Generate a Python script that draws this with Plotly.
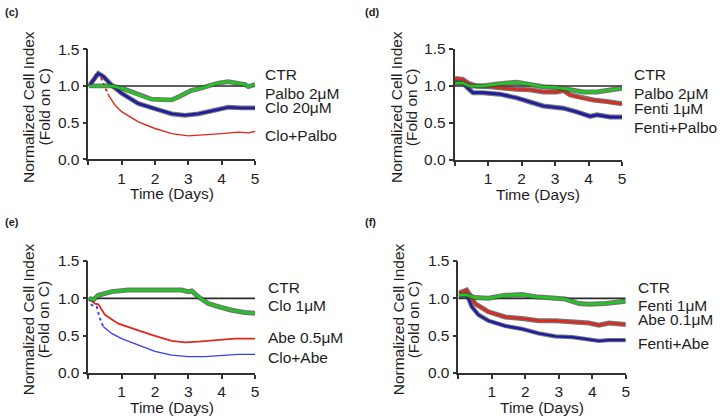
import plotly.graph_objects as go

# ---------------- data ----------------
ctr_t = [0.0, 5.0]
ctr_y = [1.0, 1.0]

# panel (c)
c_palbo_t = [0.02, 0.3, 0.7, 1.0, 1.5, 1.9, 2.2, 2.5, 2.7, 2.9, 3.1, 3.3, 3.5, 3.7, 3.9, 4.2, 4.5, 4.7, 4.8, 4.9, 5.0]
c_palbo_y = [1.0, 1.0, 1.0, 0.97, 0.88, 0.82, 0.815, 0.81, 0.85, 0.89, 0.94, 0.96, 0.99, 1.01, 1.04, 1.06, 1.04, 1.02, 0.99, 1.01, 1.02]
c_clo_t = [0.02, 0.15, 0.3, 0.45, 0.7, 1.0, 1.5, 2.0, 2.5, 2.9, 3.3, 3.7, 4.2, 4.6, 5.0]
c_clo_y = [1.0, 1.08, 1.17, 1.13, 1.01, 0.90, 0.76, 0.69, 0.62, 0.60, 0.62, 0.66, 0.71, 0.70, 0.70]
c_combo_t = [0.02, 0.15, 0.25, 0.35, 0.45, 0.6, 0.8, 1.0, 1.5, 2.0, 2.5, 3.0, 3.5, 4.0, 4.5, 4.8, 5.0]
c_combo_y = [0.99, 1.06, 1.19, 1.15, 1.04, 0.88, 0.74, 0.65, 0.51, 0.42, 0.35, 0.32, 0.33, 0.35, 0.37, 0.36, 0.38]

# panel (d)
d_palbo_t = [0.02, 0.25, 0.45, 0.85, 1.35, 1.85, 2.25, 2.65, 3.05, 3.45, 3.85, 4.25, 4.65, 5.0]
d_palbo_y = [1.04, 1.04, 1.0, 1.0, 1.03, 1.05, 1.02, 0.99, 0.98, 0.95, 0.92, 0.92, 0.95, 0.97]
d_fenti_t = [0.02, 0.25, 0.4, 0.65, 1.05, 1.45, 1.85, 2.25, 2.65, 3.05, 3.25, 3.45, 3.85, 4.15, 4.55, 5.0]
d_fenti_y = [1.10, 1.09, 1.04, 1.0, 0.99, 0.97, 0.955, 0.95, 0.92, 0.92, 0.94, 0.88, 0.83, 0.81, 0.79, 0.76]
d_combo_t = [0.02, 0.25, 0.4, 0.55, 0.85, 1.35, 1.85, 2.25, 2.65, 3.05, 3.25, 3.65, 4.05, 4.25, 4.65, 5.0]
d_combo_y = [1.05, 1.04, 0.97, 0.91, 0.91, 0.89, 0.84, 0.79, 0.73, 0.71, 0.70, 0.65, 0.59, 0.61, 0.58, 0.58]

# panel (e)
e_clo_t = [0.02, 0.15, 0.3, 0.7, 1.2, 1.9, 2.4, 2.8, 3.0, 3.1, 3.3, 3.6, 3.9, 4.3, 4.7, 5.0]
e_clo_y = [1.0, 0.98, 1.04, 1.09, 1.11, 1.11, 1.10, 1.11, 1.09, 1.10, 1.02, 0.93, 0.89, 0.84, 0.81, 0.80]
e_abe_t = [0.02, 0.2, 0.3, 0.5, 0.9, 1.4, 1.9, 2.5, 2.9, 3.3, 3.9, 4.4, 5.0]
e_abe_y = [1.0, 0.93, 0.92, 0.78, 0.66, 0.58, 0.51, 0.43, 0.41, 0.42, 0.44, 0.46, 0.46]
e_combo_t = [0.02, 0.1, 0.25, 0.35, 0.45, 0.7, 1.0, 1.5, 2.0, 2.5, 3.0, 3.5, 4.0, 4.5, 5.0]
e_combo_y = [1.0, 0.91, 0.89, 0.73, 0.62, 0.53, 0.46, 0.37, 0.29, 0.24, 0.22, 0.22, 0.24, 0.25, 0.25]

# panel (f)
f_fenti_t = [0.02, 0.2, 0.5, 0.9, 1.4, 1.9, 2.3, 2.8, 3.2, 3.6, 3.9, 4.4, 5.0]
f_fenti_y = [1.04, 1.05, 1.01, 1.0, 1.04, 1.05, 1.02, 1.0, 0.99, 0.93, 0.92, 0.93, 0.96]
f_abe_t = [0.02, 0.15, 0.25, 0.35, 0.5, 0.9, 1.4, 1.9, 2.4, 2.9, 3.4, 3.9, 4.2, 4.5, 5.0]
f_abe_y = [1.07, 1.09, 1.11, 1.04, 0.93, 0.82, 0.75, 0.73, 0.70, 0.70, 0.69, 0.67, 0.64, 0.67, 0.65]
f_combo_t = [0.02, 0.2, 0.3, 0.4, 0.6, 0.9, 1.4, 1.9, 2.4, 2.9, 3.4, 3.9, 4.2, 4.5, 5.0]
f_combo_y = [1.02, 1.05, 1.0, 0.89, 0.78, 0.70, 0.63, 0.59, 0.53, 0.49, 0.48, 0.45, 0.43, 0.44, 0.44]

panel_letters = ["(c)", "(d)", "(e)", "(f)"]
labels_c = ["CTR", "Palbo 2\u03bcM", "Clo 20\u03bcM", "Clo+Palbo"]
labels_d = ["CTR", "Palbo 2\u03bcM", "Fenti 1\u03bcM", "Fenti+Palbo"]
labels_e = ["CTR", "Clo 1\u03bcM", "Abe 0.5\u03bcM", "Clo+Abe"]
labels_f = ["CTR", "Fenti 1\u03bcM", "Abe 0.1\u03bcM", "Fenti+Abe"]

# ---------------- styling ----------------
W, H = 720, 420
FONT = "Liberation Sans, Arial, sans-serif"
FS = 15.5
INK = "#1e1e1e"
GREEN = "#1ec81e"
BLUE = "#1c1ca6"
LBLUE = "#3c3cf0"
RED = "#e0281e"
BAND = "rgba(70,70,70,0.75)"


def px(x):
    return x / W


def py(y):
    return 1 - y / H


fig = go.Figure()


def add_line(ax, t, y, color, width, band=0.0, dot_until=None):
    xa, ya = ("x", "y") if ax == 1 else (f"x{ax}", f"y{ax}")
    if band:
        fig.add_trace(go.Scatter(x=t, y=y, mode="lines", xaxis=xa, yaxis=ya,
                                 line=dict(color=BAND, width=width + band),
                                 hoverinfo="skip", showlegend=False))
    if dot_until:
        k = dot_until
        fig.add_trace(go.Scatter(x=t[:k + 1], y=y[:k + 1], mode="lines", xaxis=xa, yaxis=ya,
                                 line=dict(color=color, width=width + 0.6, dash="dot"),
                                 showlegend=False))
        t, y = t[k:], y[k:]
    fig.add_trace(go.Scatter(x=t, y=y, mode="lines", xaxis=xa, yaxis=ya,
                             line=dict(color=color, width=width), showlegend=False))


# panel (c)
add_line(1, ctr_t, ctr_y, "#2a2a2a", 1.6)
add_line(1, c_combo_t, c_combo_y, RED, 1.4, dot_until=5)
add_line(1, c_clo_t, c_clo_y, BLUE, 2.6, band=2.2)
add_line(1, c_palbo_t, c_palbo_y, GREEN, 2.6, band=2.2)
# panel (d)
add_line(2, ctr_t, ctr_y, "#2a2a2a", 1.6)
add_line(2, d_combo_t, d_combo_y, BLUE, 2.6, band=2.4)
add_line(2, d_fenti_t, d_fenti_y, RED, 2.6, band=2.4)
add_line(2, d_palbo_t, d_palbo_y, GREEN, 2.6, band=2.4)
# panel (e)
add_line(3, ctr_t, ctr_y, "#2a2a2a", 1.6)
add_line(3, e_combo_t, e_combo_y, LBLUE, 1.3, dot_until=4)
add_line(3, e_abe_t, e_abe_y, RED, 1.8)
add_line(3, e_clo_t, e_clo_y, GREEN, 2.6, band=2.4)
# panel (f)
add_line(4, ctr_t, ctr_y, "#2a2a2a", 1.6)
add_line(4, f_combo_t, f_combo_y, BLUE, 2.4, band=2.0)
add_line(4, f_abe_t, f_abe_y, RED, 2.6, band=2.4)
add_line(4, f_fenti_t, f_fenti_y, GREEN, 2.6, band=2.4)

# plot areas in pixels: (x0, x1, ytop, ybottom)
boxes = [(88.3, 255.0, 49.3, 159.3),
         (454.5, 622.0, 49.0, 160.0),
         (88.3, 255.0, 261.0, 373.0),
         (458.3, 625.7, 261.0, 373.0)]

axis_style = dict(showline=True, linecolor="#333333", linewidth=1.5,
                  ticks="outside", ticklen=4, tickwidth=1.5, tickcolor="#333333",
                  showgrid=False, zeroline=False, automargin=False,
                  tickfont=dict(family=FONT, size=FS, color=INK))

layout = dict(template="none", width=W, height=H, margin=dict(l=0, r=0, t=0, b=0, pad=0),
              plot_bgcolor="white", paper_bgcolor="white", showlegend=False)

for i, (x0, x1, yt, yb) in enumerate(boxes):
    n = "" if i == 0 else str(i + 1)
    layout["xaxis" + n] = dict(axis_style, domain=[px(x0), px(x1)], range=[0, 5],
                               tickvals=[0, 1, 2, 3, 4, 5], ticktext=["", "1", "2", "3", "4", "5"],
                               anchor="y" + n)
    layout["yaxis" + n] = dict(axis_style, domain=[py(yb), py(yt)], range=[0, 1.5],
                               tickvals=[0, 0.5, 1.0, 1.5], ticktext=["0.0", "0.5", "1.0", "1.5"],
                               anchor="x" + n)

fig.update_layout(**layout)

ann = []
letter_pos = [(3, 12), (363, 12), (3, 222), (363, 222)]
for (lx, ly), txt in zip(letter_pos, panel_letters):
    ann.append(dict(x=px(lx), y=py(ly), xref="paper", yref="paper", text=f"<b>{txt}</b>",
                    showarrow=False, xanchor="left", yanchor="middle",
                    font=dict(family=FONT, size=11, color=INK)))

# axis titles
title_x = [(28.0, 43.5, 107), (396.5, 411.7, 107.5), (28.3, 43.3, 319), (398.3, 413.3, 319)]
for (x0, x1, yt, yb), (t1, t2, tc) in zip(boxes, title_x):
    ann.append(dict(x=px((x0 + x1) / 2), y=py(yb + 34), xref="paper", yref="paper",
                    text="Time (Days)", showarrow=False, xanchor="center", yanchor="middle",
                    font=dict(family=FONT, size=FS, color=INK)))
    ann.append(dict(x=px(t1), y=py(tc), xref="paper", yref="paper", textangle=-90,
                    text="Normalized Cell Index", showarrow=False, xanchor="center",
                    yanchor="middle", font=dict(family=FONT, size=FS, color=INK)))
    ann.append(dict(x=px(t2), y=py(tc), xref="paper", yref="paper", textangle=-90,
                    text="(Fold on C)", showarrow=False, xanchor="center",
                    yanchor="middle", font=dict(family=FONT, size=FS, color=INK)))

# series labels to the right of each panel
label_y = [[1.16, 0.90, 0.70, 0.33],
           [1.16, 0.90, 0.70, 0.44],
           [1.14, 0.90, 0.48, 0.21],
           [1.14, 0.91, 0.71, 0.40]]
label_shift = [8, 10, 11, 10]
for i, labels in enumerate([labels_c, labels_d, labels_e, labels_f]):
    n = "" if i == 0 else str(i + 1)
    for txt, yv in zip(labels, label_y[i]):
        ann.append(dict(x=1, y=yv, xref="x" + n + " domain", yref="y" + n, text=txt,
                        showarrow=False, xanchor="left", yanchor="middle",
                        xshift=label_shift[i],
                        font=dict(family=FONT, size=FS, color=INK)))

fig.update_layout(annotations=ann)
# page body margin would push the 720x420 figure off the window
fig.write_html("out.html", config={"displayModeBar": False},
               post_script="document.body.style.margin='0';document.body.style.overflow='hidden';")
